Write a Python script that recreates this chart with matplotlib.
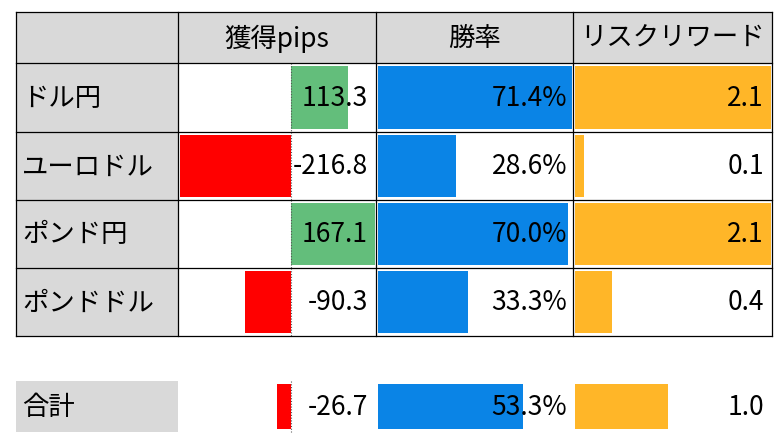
import matplotlib
matplotlib.use("Agg")
import matplotlib.pyplot as plt
from matplotlib.patches import Rectangle

headers = ["獲得pips", "勝率", "リスクリワード"]
pairs = ["ドル円", "ユーロドル", "ポンド円", "ポンドドル"]
pips = [113.3, -216.8, 167.1, -90.3]
winrate = [71.4, 28.6, 70.0, 33.3]
rr = [2.1, 0.1, 2.1, 0.4]
total_label = "合計"
total_pips = -26.7
total_win = 53.3
total_rr = 1.0

W, H = 781, 441
fig = plt.figure(figsize=(W/100, H/100), dpi=100)
ax = fig.add_axes([0, 0, 1, 1])
ax.set_xlim(0, W); ax.set_ylim(H, 0); ax.axis("off")
FONT = "Noto Sans CJK JP"
FS = 19
GRAY = "#D9D9D9"; GREEN = "#63BE7B"; RED = "#FF0000"; BLUE = "#0A84E6"; ORANGE = "#FFB628"

cx = [16, 178, 376, 573, 772]
ry = [12, 63, 132, 200, 268, 336]
tot = (381, 432)

def rect(x0, y0, x1, y1, fc, ec="none", lw=0, z=1):
    ax.add_patch(Rectangle((x0, y0), x1-x0, y1-y0, facecolor=fc, edgecolor=ec, lw=lw, zorder=z))

# header
rect(cx[0], ry[0], cx[4], ry[1], GRAY)
for i, h in enumerate(headers):
    ax.text((cx[i+1]+cx[i+2])/2, (ry[0]+ry[1])/2+1, h, ha="center", va="center", fontsize=FS, family=FONT, zorder=5)
for r in range(4):
    rect(cx[0], ry[r+1], cx[1], ry[r+2], GRAY)

zero = 291
pmax, pmin = max(pips), min(pips)
def pip_bar(v, y0, y1):
    if v >= 0:
        rect(zero, y0+3, zero + v/pmax*(cx[2]-zero-1), y1-3, GREEN, z=2)
    else:
        rect(zero + v/(-pmin)*(zero-cx[1]-2), y0+3, zero, y1-3, RED, z=2)
    ax.plot([zero, zero], [y0, y1], color="#555555", lw=0.8, ls=(0, (1, 1.5)), zorder=3)

wmax = max(winrate); rmax = max(rr)
def row(label, p, w, q, y0, y1, labelbox):
    yc = (y0+y1)/2 + 1
    if labelbox:
        rect(cx[0], y0, cx[1], y1, GRAY)
    ax.text(cx[0]+6, yc, label, ha="left", va="center", fontsize=FS, family=FONT, zorder=5)
    pip_bar(p, y0, y1)
    rect(cx[2]+2, y0+3, cx[2]+2 + w/wmax*(cx[3]-cx[2]-3), y1-3, BLUE, z=2)
    rect(cx[3]+2, y0+3, cx[3]+2 + q/rmax*(cx[4]-cx[3]-3), y1-3, ORANGE, z=2)
    ax.text(cx[2]-8, yc, f"{p:.1f}", ha="right", va="center", fontsize=FS, family=FONT, zorder=5)
    ax.text(cx[3]-6, yc, f"{w:.1f}%", ha="right", va="center", fontsize=FS, family=FONT, zorder=5)
    ax.text(cx[4]-8, yc, f"{q:.1f}", ha="right", va="center", fontsize=FS, family=FONT, zorder=5)

for r in range(4):
    row(pairs[r], pips[r], winrate[r], rr[r], ry[r+1], ry[r+2], False)
row(total_label, total_pips, total_win, total_rr, tot[0], tot[1], True)

# grid lines
for x in cx:
    ax.plot([x, x], [ry[0], ry[-1]], color="black", lw=0.9, zorder=4)
for y in ry:
    ax.plot([cx[0], cx[4]], [y, y], color="black", lw=0.9, zorder=4)

fig.savefig("out.png", dpi=100)
